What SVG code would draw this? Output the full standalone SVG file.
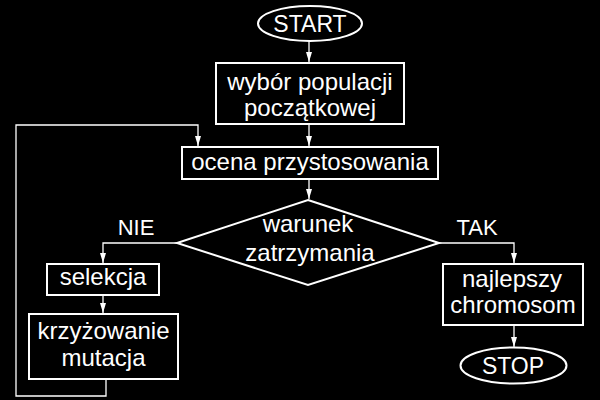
<svg xmlns="http://www.w3.org/2000/svg" width="600" height="400" viewBox="0 0 600 400">
<defs>
<marker id="arr" markerUnits="userSpaceOnUse" markerWidth="11" markerHeight="7" refX="10" refY="3" orient="auto">
<path d="M0,0 L10,3 L0,6 Z" fill="#fff"/>
</marker>
<style>
.s{fill:#000;stroke:#fff;stroke-width:2}
.c{fill:none;stroke:#fff;stroke-width:1.3}
.a{marker-end:url(#arr)}
text{fill:#fff;font-family:"Liberation Sans",Arial,sans-serif;font-size:24px;text-anchor:middle}
.sm{font-size:22px}
.el{font-size:23px}
</style>
</defs>
<rect width="600" height="400" fill="#000"/>
<g id="connectors">
<path class="c a" d="M309,41 V62"/>
<path class="c a" d="M309,124 V146"/>
<path class="c a" d="M309,179 V199"/>
<path class="c a" d="M177,243 H103 V263"/>
<path class="c a" d="M103,295 V313"/>
<path class="c a" d="M106,379 V396 H16 V125 H198 V146"/>
<path class="c a" d="M439,243 H514 V263"/>
<path class="c a" d="M514,325 V347"/>
</g>
<g id="start">
<ellipse class="s" cx="310" cy="23.5" rx="52" ry="17.5"/>
<text class="el" x="310" y="32">START</text>
</g>
<g id="init">
<rect class="s" x="216" y="63" width="188" height="61"/>
<text x="310" y="90">wybór populacji</text>
<text x="310" y="116">początkowej</text>
</g>
<g id="eval">
<rect class="s" x="182" y="147" width="256" height="32"/>
<text x="310" y="170">ocena przystosowania</text>
</g>
<g id="cond">
<polygon class="s" points="308,200 439,243 308,285 177,243"/>
<text x="308" y="232">warunek</text>
<text x="310" y="261">zatrzymania</text>
</g>
<g id="labels">
<text class="sm" x="136" y="235">NIE</text>
<text class="sm" x="477" y="235">TAK</text>
</g>
<g id="sel">
<rect class="s" x="47" y="264" width="112" height="31"/>
<text x="103" y="285">selekcja</text>
</g>
<g id="cross">
<rect class="s" x="29" y="314" width="149" height="65"/>
<text x="103.5" y="339">krzyżowanie</text>
<text x="103.5" y="366">mutacja</text>
</g>
<g id="best">
<rect class="s" x="443" y="264" width="140" height="61"/>
<text x="512" y="287">najlepszy</text>
<text x="513" y="313">chromosom</text>
</g>
<g id="stop">
<ellipse class="s" cx="513.5" cy="365.5" rx="53" ry="18"/>
<text class="el" x="513" y="374">STOP</text>
</g>
</svg>
